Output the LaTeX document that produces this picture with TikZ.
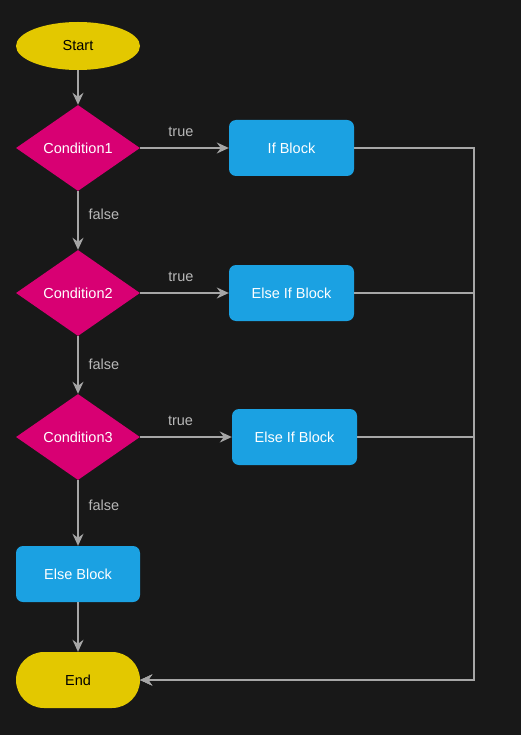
\documentclass[tikz,border=0pt]{standalone}
\usepackage{fontspec}
\setmainfont{Liberation Sans}
\usetikzlibrary{shapes.geometric, arrows.meta}
\definecolor{bgdark}{HTML}{181818}
\definecolor{termfill}{HTML}{E3C800}
\definecolor{condfill}{HTML}{D80073}
\definecolor{blockfill}{HTML}{1BA1E2}
\definecolor{wire}{HTML}{A6A6A6}
\definecolor{labeltext}{HTML}{B8B8B8}
\begin{document}
\begin{tikzpicture}[x=1pt, y=-1pt, font=\fontsize{14.5}{17}\selectfont, every node/.style={inner sep=0pt}, terminal/.style={ellipse, fill=termfill, text=black, minimum width=124pt, minimum height=48pt}, stadium/.style={rectangle, rounded corners=28pt, fill=termfill, text=black, minimum width=124pt, minimum height=56pt}, cond/.style={diamond, aspect=1.44, fill=condfill, text=white, minimum width=124pt, minimum height=86pt}, block/.style={rectangle, rounded corners=7pt, fill=blockfill, text=white, minimum width=125pt, minimum height=56pt}, flow/.style={draw=wire, line width=1.3pt, -{Stealth[length=12pt, width=11pt, inset=4pt]}}, edgelabel/.style={text=labeltext, draw=none, fill=none}]
        \fill[bgdark] (0,0) rectangle (521,735);
        \useasboundingbox (0,0) rectangle (521,735);
		\node[terminal] (start) at (78, 46) {Start};
		\node[cond] (c1) at (78, 148) {Condition1};
		\node[cond] (c2) at (78, 293) {Condition2};
		\node[cond] (c3) at (78, 437) {Condition3};
		\node[block] (ifb) at (291.5, 148) {If Block};
		\node[block] (elif1) at (291.5, 293) {Else If Block};
		\node[block] (elif2) at (294.5, 437) {Else If Block};
		\node[block, minimum width=124pt] (elseb) at (78, 574) {Else Block};
		\node[stadium] (end) at (78, 680) {End};
		\coordinate (rail) at (474, 680);
		\draw[flow] (start) -- (c1);
		\draw[flow] (c1) -- node[edgelabel, above=11pt, pos=0.46] {true} (ifb);
		\draw[flow] (c2) -- node[edgelabel, above=11pt, pos=0.46] {true} (elif1);
		\draw[flow] (c3) -- node[edgelabel, above=11pt, pos=0.44] {true} (elif2);
		\draw[flow] (c1) -- node[edgelabel, right=10pt, pos=0.4] {false} (c2);
		\draw[flow] (c2) -- node[edgelabel, right=10pt, pos=0.48] {false} (c3);
		\draw[flow] (c3) -- node[edgelabel, right=10pt, pos=0.38] {false} (elseb);
		\draw[flow] (elseb) -- (end);
		\draw[flow] (ifb.east) -| (rail) -- (end.east);
		\draw[flow] (elif1.east) -| (rail) -- (end.east);
		\draw[flow] (elif2.east) -| (rail) -- (end.east);
	\end{tikzpicture}
\end{document}
